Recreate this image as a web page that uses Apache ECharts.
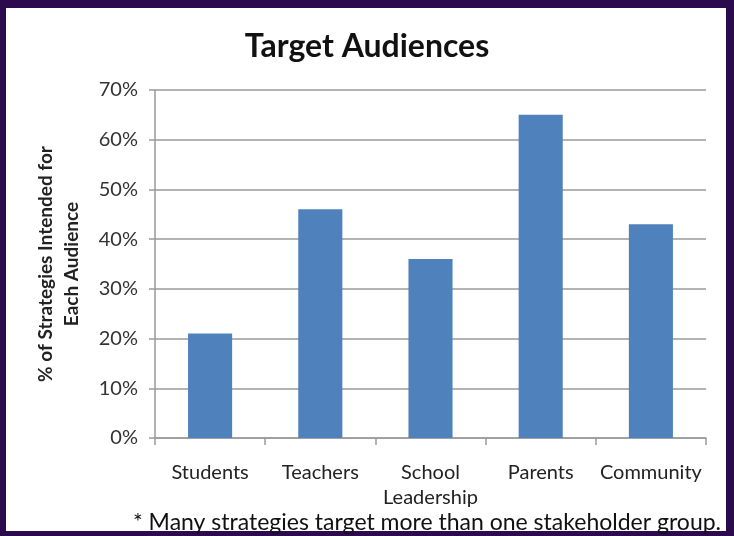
<!DOCTYPE html>
<html>
<head>
<meta charset="utf-8">
<script src="https://cdn.jsdelivr.net/npm/echarts@6/dist/echarts.min.js"></script>
<style>
html,body{margin:0;padding:0;}
#frame{position:relative;width:734px;height:536px;background:#2b0a4e;overflow:hidden;}
#inner{position:absolute;left:6px;top:8px;width:720px;height:523px;background:#ffffff;}
#chart{position:absolute;left:0;top:0;width:734px;height:536px;}
</style>
</head>
<body>
<div id="frame"><div id="inner"></div><div id="chart"></div></div>
<script>
const categories = ["Students", "Teachers", "School\nLeadership", "Parents", "Community"];
const values = [21, 46, 36, 65, 43];
const titleText = "Target Audiences";
const yAxisTitle = "% of Strategies Intended for\nEach Audience";
const footnote = "* Many strategies target more than one stakeholder group.";

const FONT = "Lato, 'Open Sans', sans-serif";
const chart = echarts.init(document.getElementById('chart'), null, {renderer: 'canvas'});
chart.setOption({
  backgroundColor: 'transparent',
  animation: false,
  title: [
    {text: titleText, left: 'center', top: 26,
     textStyle: {fontFamily: FONT, fontSize: 32, fontWeight: 'bold', color: '#111'}},
    {text: footnote, left: 422, textAlign: 'center', top: 506,
     textStyle: {fontFamily: FONT, fontSize: 23, fontWeight: 'normal', color: '#111'}}
  ],
  grid: {left: 155, right: 28, top: 90, bottom: 98, containLabel: false},
  xAxis: {
    type: 'category',
    data: categories,
    axisLine: {lineStyle: {color: '#9a9a9a', width: 1.5}},
    axisTick: {show: true, alignWithLabel: false, length: 7, lineStyle: {color: '#9a9a9a', width: 1.5}},
    axisLabel: {fontFamily: FONT, fontSize: 20, color: '#222', margin: 22, lineHeight: 25, interval: 0}
  },
  yAxis: {
    type: 'value',
    min: 0, max: 70, interval: 10,
    name: yAxisTitle,
    nameLocation: 'middle',
    nameRotate: 90,
    nameGap: 70,
    nameTextStyle: {fontFamily: FONT, fontSize: 19, fontWeight: 'bold', color: '#222', lineHeight: 26},
    axisLine: {show: true, lineStyle: {color: '#9a9a9a', width: 1.5}},
    axisTick: {show: true, length: 6, lineStyle: {color: '#9a9a9a', width: 1.5}},
    axisLabel: {fontFamily: FONT, fontSize: 20, color: '#333', margin: 17, formatter: '{value}%'},
    splitLine: {lineStyle: {color: '#9a9a9a', width: 1.5}}
  },
  series: [{
    type: 'bar',
    data: values,
    barWidth: '40%',
    itemStyle: {color: '#4f81bd'}
  }]
});
</script>
</body>
</html>
